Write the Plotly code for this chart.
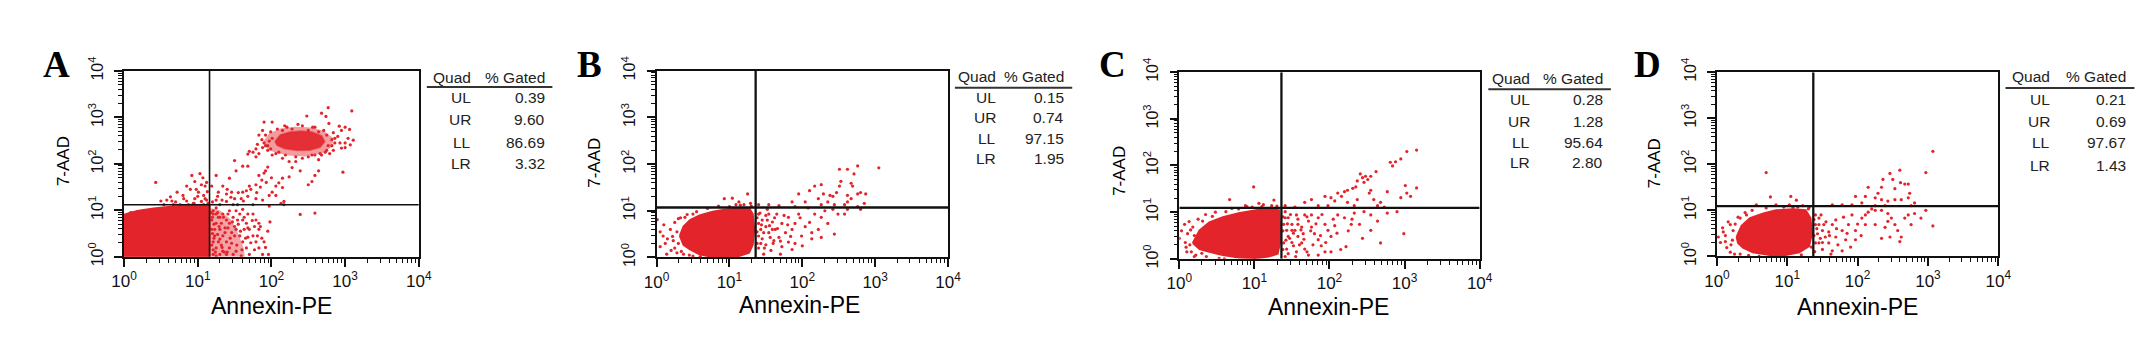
import plotly.graph_objects as go

# ---------------- DATA (log10 of intensity) ----------------
panel_names = ["A", "B", "C", "D"]
quad_labels = ["UL", "UR", "LL", "LR"]
tick_values = [1, 10, 100, 1000, 10000]
tick_labels = ["10<sup>0</sup>", "10<sup>1</sup>", "10<sup>2</sup>", "10<sup>3</sup>", "10<sup>4</sup>"]
x_title = "Annexin-PE"
y_title = "7-AAD"

gated_A = ["0.39", "9.60", "86.69", "3.32"]
gated_B = ["0.15", "0.74", "97.15", "1.95"]
gated_C = ["0.28", "1.28", "95.64", "2.80"]
gated_D = ["0.21", "0.69", "97.67", "1.43"]

# quadrant gate positions (log10 Annexin-PE, log10 7-AAD)
gate_A = (1.16, 1.12)
gate_B = (1.36, 1.07)
gate_C = (1.36, 1.09)
gate_D = (1.37, 1.09)

# outlines of the saturated (solid) cell populations, log10 units
core_A = [(0, 0), (0, 0.90), (0.1, 0.95), (0.2, 0.99), (0.4, 1.04), (0.6, 1.07), (0.8, 1.10), (1.0, 1.11),
          (1.16, 1.11), (1.16, 0)]
cluster_A = [(2.05, 2.48), (2.12, 2.62), (2.25, 2.68), (2.40, 2.70), (2.55, 2.68), (2.68, 2.60), (2.72, 2.48),
             (2.66, 2.36), (2.52, 2.30), (2.35, 2.29), (2.18, 2.33), (2.08, 2.40)]
halo_A = [(1.90, 2.50), (1.97, 2.66), (2.12, 2.76), (2.32, 2.80), (2.55, 2.78), (2.72, 2.70), (2.84, 2.55),
          (2.82, 2.36), (2.68, 2.22), (2.45, 2.16), (2.22, 2.18), (2.02, 2.26), (1.90, 2.38)]
# moderately dense (speckled) region right of the Annexin gate in A
speckle_A = [(1.16, 0), (1.16, 1.05), (1.30, 1.00), (1.45, 0.80), (1.55, 0.50), (1.62, 0.20), (1.64, 0)]
core_B = [(0.32, 0.46), (0.37, 0.66), (0.46, 0.80), (0.59, 0.90), (0.77, 0.98), (0.95, 1.03), (1.13, 1.05),
          (1.27, 1.06), (1.32, 0.93), (1.34, 0.60), (1.32, 0.27), (1.27, 0.10), (1.13, 0.03), (0.95, 0.0),
          (0.77, 0.01), (0.59, 0.07), (0.46, 0.17), (0.37, 0.27)]
core_C = [(0.18, 0.34), (0.27, 0.61), (0.40, 0.78), (0.58, 0.89), (0.79, 0.98), (1.01, 1.04), (1.19, 1.09),
          (1.33, 1.04), (1.34, 0.74), (1.34, 0.34), (1.31, 0.11), (1.19, 0.05), (1.01, 0.01), (0.79, 0.03),
          (0.58, 0.08), (0.40, 0.15), (0.27, 0.21)]
core_D = [(0.28, 0.42), (0.35, 0.66), (0.47, 0.83), (0.66, 0.93), (0.84, 1.00), (1.08, 1.02), (1.26, 1.00),
          (1.33, 0.83), (1.35, 0.49), (1.31, 0.22), (1.17, 0.09), (0.98, 0.03), (0.75, 0.03), (0.51, 0.09),
          (0.37, 0.19), (0.30, 0.29)]

# individual events outside the solid populations, log10 units
dots_A = [
    (2.77, 3.21), (3.09, 3.14), (2.48, 3.03), (2.68, 3.09), (2.74, 3.02), (2.78, 2.87), (2.01, 2.90), (1.90, 2.90),
    (2.36, 2.85), (2.18, 2.82), (2.92, 2.81), (3.06, 2.74), (3.00, 2.79), (2.56, 2.79), (2.84, 2.67), (3.11, 2.51),
    (3.07, 2.41), (2.95, 2.34), (2.90, 2.59), (2.86, 2.45), (1.83, 2.62), (1.87, 2.52), (1.79, 2.32), (1.75, 2.25),
    (1.70, 2.27), (1.68, 2.21), (1.50, 2.07), (1.79, 2.15), (1.83, 2.22), (2.01, 2.19), (2.15, 2.12), (2.24, 2.05),
    (2.33, 2.05), (2.42, 2.12), (2.59, 2.19), (2.73, 2.25), (2.79, 2.22), (2.64, 2.09), (2.97, 1.82), (2.64, 1.85),
    (2.59, 1.75), (2.55, 1.62), (2.50, 1.55), (2.39, 1.85), (2.28, 1.92), (2.24, 1.72), (2.15, 1.69), (2.10, 1.59),
    (2.06, 1.52), (2.01, 1.39), (1.97, 1.32), (2.06, 1.32), (2.15, 1.49), (2.17, 1.19), (2.13, 1.15), (1.95, 1.93),
    (1.92, 1.85), (1.83, 1.75), (1.87, 1.65), (1.79, 1.55), (1.70, 1.52), (1.66, 1.42), (1.61, 1.39), (1.59, 1.25),
    (1.52, 1.85), (1.43, 1.69), (1.61, 1.95), (1.68, 1.95), (1.25, 1.75), (1.19, 1.52), (1.34, 1.52), (1.28, 1.39),
    (1.39, 1.35), (1.46, 1.39), (1.50, 1.25), (1.54, 1.12), (1.39, 1.19), (1.25, 1.22), (1.30, 1.12), (1.48, 1.12),
    (2.39, 0.91), (2.59, 0.94), (1.79, 1.25), (1.88, 1.22), (1.75, 1.12), (1.97, 1.09), (2.17, 1.12),
    (1.92, 2.39), (1.97, 2.49), (1.95, 2.29), (2.77, 2.39), (2.82, 2.52), (2.75, 2.62), (2.15, 2.72), (2.28, 2.75),
    (2.50, 2.72), (2.64, 2.69), (2.06, 2.22), (2.50, 2.15), (2.68, 2.19), (1.88, 2.72), (2.95, 2.72), (3.04, 2.55),
    (3.00, 2.45), (1.90, 2.45), (1.92, 2.62), (1.99, 2.69), (2.08, 2.75), (2.21, 2.79), (2.42, 2.82), (2.59, 2.79),
    (2.71, 2.72), (2.82, 2.39), (2.75, 2.29), (2.66, 2.22), (2.55, 2.19), (2.33, 2.15), (2.19, 2.19), (2.10, 2.25),
    (1.99, 2.32), (1.95, 2.39), (2.01, 2.55), (1.88, 2.35), (1.81, 2.42), (2.86, 2.55), (2.93, 2.45), (3.00, 2.35),
    (2.84, 2.29),
    (1.20, 1.18), (1.27, 1.30), (1.33, 1.22), (1.40, 1.45), (1.45, 1.28), (1.55, 1.38), (1.62, 1.20), (1.68, 1.30),
    (1.72, 1.45), (1.80, 1.38), (1.85, 1.50), (1.93, 1.60), (2.00, 1.70), (1.90, 1.80),
    (1.21, 0.99), (1.25, 0.92), (1.30, 0.85), (1.34, 0.92), (1.39, 0.79), (1.43, 0.72), (1.48, 0.85), (1.52, 0.99),
    (1.57, 0.92), (1.61, 0.79), (1.66, 0.72), (1.70, 0.59), (1.75, 0.45), (1.79, 0.32), (1.83, 0.19), (1.88, 0.05),
    (1.25, 0.72), (1.30, 0.59), (1.34, 0.45), (1.39, 0.32), (1.43, 0.19), (1.48, 0.05), (1.52, 0.59), (1.57, 0.45),
    (1.61, 0.32), (1.66, 0.19), (1.70, 0.05), (1.23, 0.45), (1.25, 0.19), (1.30, 0.05), (1.34, 0.12), (1.21, 0.05),
    (1.75, 0.92), (1.79, 0.79), (1.83, 0.59), (1.52, 0.12), (1.59, 0.02), (1.68, 0.42), (1.46, 0.52), (1.37, 0.62),
    (1.28, 0.32), (1.19, 0.59), (1.19, 0.79), (1.25, 1.05), (1.43, 0.99), (1.61, 1.02), (1.83, 0.72), (1.77, 0.65),
    (1.81, 0.45), (1.21, 0.92), (1.23, 0.59), (1.21, 0.32), (1.28, 0.85), (1.32, 0.72), (1.41, 0.92), (1.50, 0.65),
    (1.54, 0.79), (1.39, 0.05), (1.46, 0.29), (1.63, 0.59), (1.21, 0.15), (1.25, 0.02), (1.32, 0.25), (1.68, 0.92),
    (1.90, 0.32), (1.18, 0.95), (1.20, 0.85), (1.22, 0.70), (1.20, 0.50), (1.22, 0.40), (1.19, 0.25), (1.24, 0.10),
    (1.27, 0.95), (1.29, 0.65), (1.27, 0.48), (1.30, 0.38), (1.33, 0.20), (1.35, 0.85), (1.37, 0.52), (1.36, 0.10),
    (1.41, 0.62), (1.44, 0.40), (1.40, 0.10), (1.47, 0.75), (1.50, 0.45), (1.53, 0.25), (1.55, 0.70), (1.58, 0.55),
    (1.60, 0.15), (1.63, 0.85), (1.65, 0.40), (1.68, 0.62), (1.72, 0.30), (1.74, 0.78), (1.77, 0.15), (1.85, 0.65),
    (1.87, 0.40), (1.92, 0.20), (1.95, 0.55), (1.98, 0.75), (1.96, 0.05),
    (0.43, 1.60), (0.58, 1.22), (0.63, 1.29), (0.72, 1.39), (0.81, 1.25), (0.85, 1.52), (0.90, 1.45), (0.92, 1.75),
    (0.96, 1.62), (1.03, 1.79), (1.05, 1.55), (1.10, 1.52), (1.01, 1.39), (0.96, 1.25), (1.08, 1.32), (0.875, 1.12),
    (0.76, 1.12), (0.67, 1.12), (0.54, 1.12), (0.45, 1.02), (0.36, 0.99), (0.27, 0.98), (0.18, 0.97), (0.09, 0.95),
    (1.05, 1.19), (1.12, 1.22), (1.08, 1.12), (0.94, 1.15), (0.50, 1.20), (0.70, 1.18), (0.85, 1.20), (0.95, 1.15),
    (1.00, 1.30), (1.10, 1.25), (1.13, 1.40), (1.12, 1.60), (1.07, 1.70), (0.98, 1.45), (0.80, 1.32), (0.65, 1.20),
    (1.14, 1.15),
]
dots_B = [
    (0.01, 0.81), (0.09, 0.46), (0.12, 0.30), (0.05, 0.23), (0.19, 0.60), (0.23, 0.36), (0.25, 0.20), (0.14, 0.07),
    (0.34, 0.13), (0.30, 0.83), (0.39, 0.86), (0.50, 0.93), (0.93, 1.26), (1.04, 1.27), (1.25, 1.36), (1.13, 1.19),
    (1.20, 1.13), (1.29, 1.16), (1.09, 1.13), (1.00, 1.09), (0.37, 0.07), (0.50, 0.03),
    (0.05, 0.55), (0.10, 0.70), (0.15, 0.40), (0.20, 0.15), (0.25, 0.75), (0.28, 0.55), (0.30, 0.30), (0.33, 0.85),
    (0.42, 0.92), (0.55, 0.98), (0.70, 1.05), (0.85, 1.10), (1.15, 1.12), (1.30, 1.10), (0.45, 0.05), (0.60, 0.02),
    (0.28, 0.10), (0.22, 0.45),
    (1.40, 0.93), (1.45, 0.80), (1.50, 0.66), (1.54, 0.53), (1.45, 0.40), (1.40, 0.20), (1.50, 0.27), (1.59, 0.76),
    (1.63, 0.60), (1.68, 0.43), (1.72, 0.73), (1.77, 0.53), (1.81, 0.33), (1.72, 0.23), (1.61, 0.36), (1.54, 0.93),
    (1.65, 0.93), (1.52, 1.03), (1.86, 0.60), (1.90, 0.73), (1.95, 0.93), (1.81, 0.86), (1.99, 0.46), (2.04, 0.66),
    (2.13, 0.53), (2.17, 0.93), (2.26, 0.86), (2.35, 0.73), (2.31, 1.00), (2.42, 1.03), (2.49, 0.93), (2.13, 0.40),
    (2.22, 0.60), (2.26, 0.43), (2.44, 0.50), (2.58, 0.93), (2.62, 1.03), (2.80, 1.03), (2.08, 1.06), (1.86, 0.17),
    (1.70, 0.07), (1.47, 0.07), (1.40, 0.73), (1.43, 0.60), (1.47, 0.53), (1.40, 0.46), (1.43, 0.30), (1.52, 0.80),
    (1.59, 0.60), (1.56, 0.43), (1.38, 0.85), (1.38, 0.55), (1.38, 0.30), (1.42, 0.95), (1.44, 0.70), (1.48, 0.20),
    (1.50, 0.90), (1.55, 0.68), (1.57, 0.15), (1.60, 0.30), (1.62, 0.85), (1.66, 0.62), (1.70, 0.35), (1.75, 0.90),
    (1.80, 0.70), (1.84, 0.45), (1.90, 0.30), (1.97, 0.85), (2.00, 0.25), (2.10, 0.75),
    (1.40, 1.13), (1.54, 1.13), (1.68, 1.11), (1.86, 1.19), (1.95, 1.36), (2.10, 1.43), (2.17, 1.53), (2.26, 1.56),
    (2.29, 1.36), (2.38, 1.33), (2.42, 1.31), (2.47, 1.39), (2.51, 1.53), (2.53, 1.63), (2.51, 1.89), (2.62, 1.89),
    (2.71, 1.79), (2.76, 1.96), (3.05, 1.92), (2.67, 1.59), (2.69, 1.53), (2.62, 1.33), (2.67, 1.26), (2.76, 1.36),
    (2.80, 1.39), (2.87, 1.36), (2.85, 1.16), (2.76, 1.09), (2.58, 1.13), (2.44, 1.13), (2.35, 1.19), (2.22, 1.26),
    (2.04, 1.19), (1.90, 1.09), (2.26, 1.13), (2.62, 1.19),
]
dots_C = [
    (0.00, 0.44), (0.07, 0.74), (0.11, 0.54), (0.09, 0.25), (0.16, 0.15), (0.22, 0.08), (0.36, 0.05), (0.53, 0.01),
    (0.99, 1.54), (0.67, 1.27), (0.88, 1.14), (1.06, 1.19), (1.12, 1.16), (1.23, 1.14), (1.26, 1.26), (0.97, 1.11),
    (0.79, 1.07), (0.62, 1.01), (0.44, 0.91), (0.31, 0.81), (0.18, 0.68),
    (0.03, 0.60), (0.08, 0.35), (0.13, 0.80), (0.14, 0.30), (0.20, 0.50), (0.20, 0.05), (0.25, 0.85), (0.30, 0.12),
    (0.35, 0.95), (0.48, 1.00), (0.60, 0.00), (0.70, 1.08), (0.90, 1.12), (1.10, 1.12), (1.30, 1.13), (1.00, 0.00),
    (0.15, 0.62), (0.10, 0.15),
    (1.41, 1.01), (1.45, 0.88), (1.50, 0.74), (1.54, 0.61), (1.58, 0.48), (1.63, 0.34), (1.67, 0.21), (1.72, 0.08),
    (1.43, 0.61), (1.47, 0.44), (1.52, 0.28), (1.56, 0.15), (1.45, 0.11), (1.67, 0.94), (1.72, 0.81), (1.76, 0.68),
    (1.80, 0.54), (1.85, 0.41), (1.89, 0.28), (1.94, 0.15), (1.76, 0.94), (1.85, 0.88), (1.94, 0.74), (1.98, 0.61),
    (2.02, 0.48), (2.07, 0.71), (2.11, 0.94), (2.20, 0.88), (2.29, 0.74), (2.33, 0.98), (2.46, 1.01), (2.55, 0.94),
    (2.64, 0.81), (2.77, 0.98), (2.90, 1.01), (2.99, 0.54), (2.68, 0.34), (2.55, 0.61), (2.44, 0.44), (2.22, 0.26),
    (2.40, 0.74), (2.02, 0.15), (1.85, 0.08), (1.63, 0.68), (1.39, 0.74), (1.39, 0.34), (1.41, 0.88), (1.45, 0.48),
    (1.50, 0.61), (1.43, 0.21), (1.58, 0.74), (1.56, 0.94), (1.65, 0.54), (1.41, 0.05),
    (1.38, 0.90), (1.38, 0.60), (1.38, 0.20), (1.42, 0.40), (1.44, 0.75), (1.48, 0.95), (1.50, 0.35), (1.52, 0.55),
    (1.55, 0.05), (1.58, 0.85), (1.60, 0.30), (1.62, 0.62), (1.66, 0.42), (1.70, 0.90), (1.70, 0.15), (1.75, 0.60),
    (1.78, 0.30), (1.82, 0.75), (1.88, 0.50), (1.90, 0.95), (1.95, 0.35), (2.05, 0.85), (2.10, 0.55), (2.15, 0.20),
    (2.25, 0.60), (2.30, 0.85),
    (1.41, 1.14), (1.54, 1.11), (1.67, 1.21), (1.76, 1.27), (1.85, 1.14), (1.94, 1.34), (2.02, 1.31), (2.07, 1.24),
    (2.11, 1.41), (2.16, 1.34), (2.20, 1.44), (2.24, 1.47), (2.31, 1.51), (2.35, 1.54), (2.37, 1.67), (2.44, 1.74),
    (2.48, 1.77), (2.51, 1.70), (2.55, 1.77), (2.62, 1.87), (2.41, 1.82), (2.46, 1.64), (2.55, 1.47), (2.59, 1.27),
    (2.68, 1.21), (2.77, 1.44), (2.95, 1.31), (3.01, 1.57), (3.03, 1.41), (3.16, 1.52), (3.08, 1.34), (2.84, 1.99),
    (2.88, 2.08), (2.95, 2.14), (3.03, 2.30), (3.16, 2.33), (2.81, 2.07), (2.53, 1.41), (2.37, 1.27), (2.64, 1.14),
    (2.73, 1.11), (1.98, 1.14), (2.24, 1.21), (2.33, 1.14),
]
dots_D = [
    (0.02, 0.42), (0.09, 0.53), (0.12, 0.32), (0.14, 0.19), (0.19, 0.69), (0.23, 0.56), (0.19, 0.09), (0.33, 0.05),
    (0.70, 1.82), (0.76, 1.29), (0.56, 1.12), (0.84, 1.12), (1.03, 1.12), (1.05, 1.30), (1.13, 1.22), (1.08, 1.06),
    (1.22, 1.10), (1.31, 1.06), (0.42, 0.90), (0.33, 0.83),
    (0.05, 0.30), (0.08, 0.62), (0.12, 0.45), (0.16, 0.75), (0.20, 0.25), (0.25, 0.05), (0.26, 0.70), (0.30, 0.85),
    (0.40, 0.95), (0.50, 1.00), (0.45, 0.02), (0.60, 0.00), (0.70, 1.05), (0.95, 1.07), (1.15, 1.07), (1.30, 1.03),
    (1.34, 0.20), (1.20, 0.03), (0.22, 0.35),
    (1.40, 0.90), (1.45, 0.83), (1.45, 0.69), (1.50, 0.56), (1.54, 0.42), (1.59, 0.53), (1.64, 0.69), (1.69, 0.79),
    (1.45, 0.29), (1.50, 0.15), (1.59, 0.29), (1.69, 0.42), (1.78, 0.56), (1.83, 0.36), (1.87, 0.69), (1.92, 0.90),
    (1.97, 0.56), (1.78, 0.12), (1.64, 0.12), (2.06, 0.83), (2.11, 0.90), (2.15, 0.96), (2.20, 1.03), (2.25, 1.00),
    (2.34, 1.00), (2.43, 0.93), (2.48, 0.83), (2.53, 0.69), (2.57, 0.56), (2.62, 0.42), (2.46, 0.42), (2.39, 0.63),
    (2.43, 0.76), (2.25, 0.69), (2.11, 0.69), (1.97, 0.36), (2.34, 0.39), (2.60, 0.32), (2.81, 0.93), (2.90, 0.83),
    (2.97, 1.00), (3.07, 0.66), (2.72, 0.90), (2.76, 0.69), (2.67, 0.83), (1.40, 0.69), (1.43, 0.49), (1.47, 0.39),
    (1.52, 0.69), (1.40, 0.29), (1.38, 0.80), (1.38, 0.45), (1.39, 0.10), (1.42, 0.60), (1.48, 0.90), (1.50, 0.30),
    (1.55, 0.75), (1.60, 0.45), (1.62, 0.05), (1.70, 0.60), (1.72, 0.25), (1.80, 0.85), (1.85, 0.50), (1.90, 0.20),
    (2.00, 0.70), (2.05, 0.45),
    (1.64, 1.12), (1.78, 1.12), (1.92, 1.12), (1.97, 1.30), (2.11, 1.30), (2.15, 1.50), (2.29, 1.37), (2.34, 1.50),
    (2.36, 1.67), (2.46, 1.80), (2.60, 1.87), (2.61, 1.60), (2.50, 1.67), (2.25, 1.27), (2.34, 1.23), (2.43, 1.20),
    (2.53, 1.23), (2.62, 1.23), (2.72, 1.27), (2.74, 1.37), (2.81, 1.16), (2.76, 1.10), (2.39, 1.10), (2.25, 1.10),
    (2.06, 1.16), (2.97, 1.82), (3.07, 2.28), (2.67, 1.57), (2.53, 1.47), (2.72, 1.57),
]

# ---------------- LAYOUT / STYLE ----------------
W, H = 2150, 337
RED = "#e3242b"
FONT = "Liberation Sans, Arial, Helvetica, sans-serif"

# plot boxes in pixels: left, right, top, bottom
boxes = {"A": (104.3, 402.7, 52.7, 252.7), "B": (643.3, 938.4, 52.5, 253.5),
         "C": (1172.5, 1476.5, 54.0, 255.0), "D": (1716.7, 2001.5, 54.0, 252.3)}
letter_pos = {"A": (35.5, 46), "B": (575, 46), "C": (1105, 46), "D": (1646, 46)}
ytitle_pos = {"A": (43.3, 150), "B": (580.6, 152), "C": (1111.7, 160), "D": (1653, 152)}
xtitle_pos = {"A": (253.5, 306), "B": (788, 305), "C": (1324, 306.5), "D": (1859, 306.5)}
# table: header y, row ys, label right x, value right x, underline (x0, x1, y)
tables = {
    "A": (59.3, [81.7, 105, 129.3, 152.3], 458, 532, (410.8, 537.9, 70)),
    "B": (59, [81.7, 103.3, 125, 146.7], 988.7, 1058.2, (945.3, 1064.1, 70.7)),
    "C": (61, [83.3, 106.7, 129.3, 151.7], 1530, 1603.4, (1485.3, 1609.3, 72.3)),
    "D": (59, [83.3, 106.7, 130, 154.3], 2056.3, 2132.7, (2008.8, 2139.3, 71)),
}
gate_width = {"A": 1.6, "B": 2.3, "C": 2.3, "D": 2.3}

data = {
    "A": (gated_A, gate_A, [core_A], [halo_A], [cluster_A], [speckle_A], dots_A),
    "B": (gated_B, gate_B, [core_B], [], [], [], dots_B),
    "C": (gated_C, gate_C, [core_C], [], [], [], dots_C),
    "D": (gated_D, gate_D, [core_D], [], [], [], dots_D),
}


def px(x):
    return x / W


def py(y):
    return 1 - y / H


def poly_trace(poly, fillcolor, linecolor, xa, ya):
    return go.Scatter(
        x=[10 ** p[0] for p in poly] + [10 ** poly[0][0]],
        y=[10 ** p[1] for p in poly] + [10 ** poly[0][1]],
        mode="lines", fill="toself", fillcolor=fillcolor, line=dict(color=linecolor, width=2),
        xaxis=xa, yaxis=ya, hoverinfo="skip", showlegend=False)


fig = go.Figure()
annotations = []
shapes = []

for i, name in enumerate(panel_names):
    sfx = "" if i == 0 else str(i + 1)
    xa, ya = "x" + sfx, "y" + sfx
    gated, gate, cores, halos, clusters, speckles, dots = data[name]

    for poly in speckles:
        fig.add_trace(poly_trace(poly, "rgba(227,36,43,0.42)", "rgba(227,36,43,0)", xa, ya))
    for poly in halos:
        fig.add_trace(poly_trace(poly, "rgba(227,36,43,0.45)", "rgba(227,36,43,0)", xa, ya))
    for poly in cores:
        fig.add_trace(poly_trace(poly, RED, RED, xa, ya))
    for poly in clusters:
        fig.add_trace(poly_trace(poly, "rgba(227,36,43,0.9)", "rgba(227,36,43,0.6)", xa, ya))
    fig.add_trace(go.Scatter(
        x=[10 ** d[0] for d in dots], y=[10 ** d[1] for d in dots],
        mode="markers", marker=dict(color=RED, size=3.2, line=dict(width=0)),
        xaxis=xa, yaxis=ya, hoverinfo="skip", showlegend=False))
    # quadrant gates
    gx, gy = 10 ** gate[0], 10 ** gate[1]
    fig.add_trace(go.Scatter(x=[gx, gx], y=[1, 10000], mode="lines",
                             line=dict(color="#111", width=gate_width[name]),
                             xaxis=xa, yaxis=ya, hoverinfo="skip", showlegend=False))
    fig.add_trace(go.Scatter(x=[1, 10000], y=[gy, gy], mode="lines",
                             line=dict(color="#111", width=gate_width[name]),
                             xaxis=xa, yaxis=ya, hoverinfo="skip", showlegend=False))

    l, r, t, b = boxes[name]
    common = dict(type="log", range=[0, 4], showgrid=False, zeroline=False, showline=True,
                  linecolor="#111", linewidth=1.6, mirror=True, ticks="outside", ticklen=8,
                  tickwidth=1.6, tickcolor="#111", tickmode="array", tickvals=tick_values,
                  ticktext=tick_labels,
                  minor=dict(ticks="outside", ticklen=4, tickwidth=1.2, tickcolor="#111",
                             dtick="D1", showgrid=False))
    fig.update_layout(**{
        ("xaxis" + sfx): dict(common, domain=[px(l), px(r)], anchor=ya,
                              tickfont=dict(family=FONT, size=17, color="#111")),
        ("yaxis" + sfx): dict(common, domain=[py(b), py(t)], anchor=xa, tickangle=-90,
                              ticklabelstandoff=5,
                              tickfont=dict(family=FONT, size=16, color="#111")),
    })

    # panel letter and axis titles
    lx, ly = letter_pos[name]
    annotations.append(dict(x=px(lx), y=py(ly), xref="paper", yref="paper", text="<b>%s</b>" % name,
                            showarrow=False, xanchor="center", yanchor="middle",
                            font=dict(family="Liberation Serif, Times New Roman, serif", size=37, color="#000")))
    tx, ty = xtitle_pos[name]
    annotations.append(dict(x=px(tx), y=py(ty), xref="paper", yref="paper", text=x_title,
                            showarrow=False, xanchor="center", yanchor="middle",
                            font=dict(family=FONT, size=23, color="#000")))
    yx, yy = ytitle_pos[name]
    annotations.append(dict(x=px(yx), y=py(yy), xref="paper", yref="paper", text=y_title, textangle=-90,
                            showarrow=False, xanchor="center", yanchor="middle",
                            font=dict(family=FONT, size=17, color="#000")))

    # gating table
    hy, rows, lab_r, val_r, (ux0, ux1, uy) = tables[name]
    tfont = dict(family=FONT, size=15.5, color="#222")
    annotations.append(dict(x=px(lab_r), y=py(hy), xref="paper", yref="paper", text="Quad",
                            showarrow=False, xanchor="right", yanchor="middle", font=tfont))
    annotations.append(dict(x=px(val_r), y=py(hy), xref="paper", yref="paper", text="% Gated",
                            showarrow=False, xanchor="right", yanchor="middle", font=tfont))
    for q, v, ry in zip(quad_labels, gated, rows):
        annotations.append(dict(x=px(lab_r), y=py(ry), xref="paper", yref="paper", text=q,
                                showarrow=False, xanchor="right", yanchor="middle", font=tfont))
        annotations.append(dict(x=px(val_r), y=py(ry), xref="paper", yref="paper", text=v,
                                showarrow=False, xanchor="right", yanchor="middle", font=tfont))
    shapes.append(dict(type="line", xref="paper", yref="paper", x0=px(ux0), x1=px(ux1),
                       y0=py(uy), y1=py(uy), line=dict(color="#333", width=2)))

fig.update_layout(width=W, height=H, margin=dict(l=0, r=0, t=0, b=0),
                  paper_bgcolor="white", plot_bgcolor="white", showlegend=False,
                  annotations=annotations, shapes=shapes)

fig.write_html("out.html")
